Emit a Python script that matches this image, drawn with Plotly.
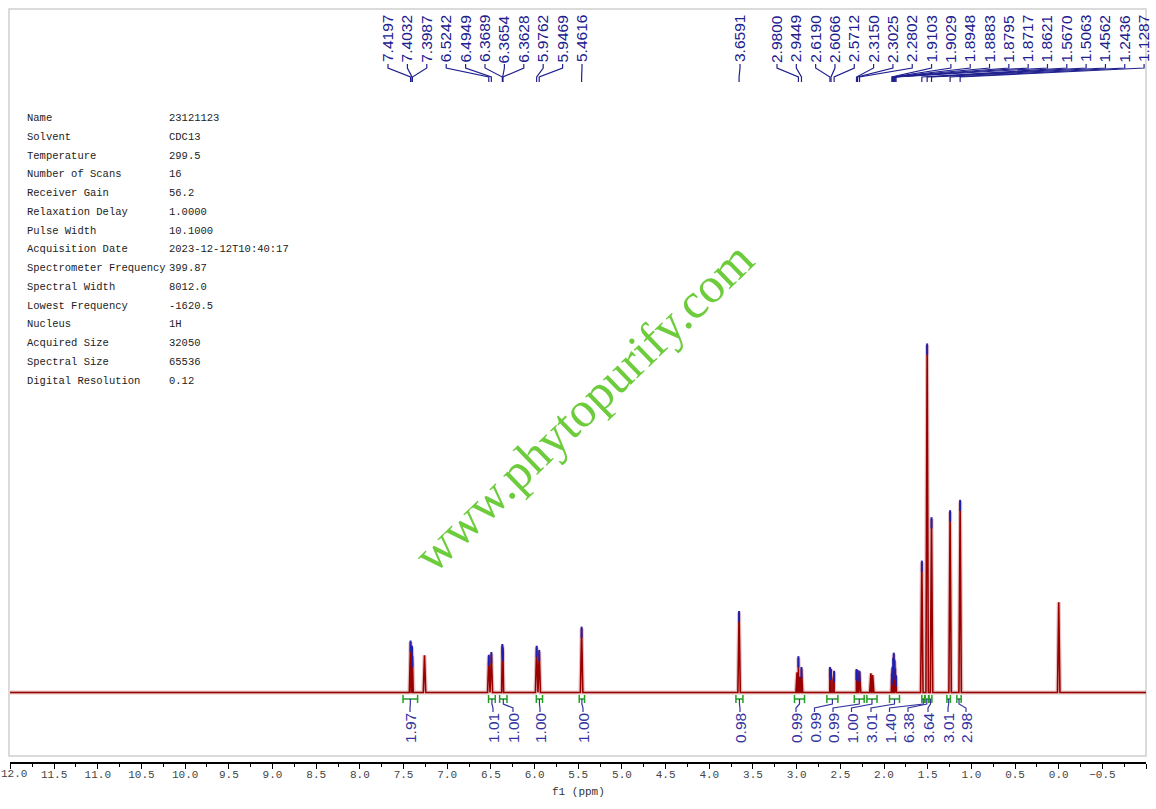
import plotly.graph_objects as go

# ---------------- data ----------------
peak_ppm = [7.4197, 7.4032, 7.3987, 7.2600, 6.5242, 6.4949, 6.3689, 6.3654, 6.3628,
            5.9762, 5.9469, 5.4616, 3.6591, 2.9950, 2.9800, 2.9620, 2.9449,
            2.6190, 2.6066, 2.5850, 2.5712, 2.3150, 2.3025, 2.2802, 2.1500, 2.1300,
            1.9103, 1.9029, 1.8948, 1.8883, 1.8795, 1.8717, 1.8621,
            1.5670, 1.5063, 1.4562, 1.2436, 1.1287, 0.0000]
peak_height = [0.145, 0.130, 0.100, 0.107, 0.104, 0.112, 0.135, 0.125, 0.118,
               0.130, 0.118, 0.185, 0.230, 0.058, 0.100, 0.045, 0.069,
               0.069, 0.063, 0.035, 0.058, 0.063, 0.060, 0.058, 0.055, 0.050,
               0.050, 0.070, 0.095, 0.110, 0.090, 0.065, 0.045,
               0.375, 1.000, 0.500, 0.520, 0.550, 0.260]

picked_ppm = [7.4197, 7.4032, 7.3987, 6.5242, 6.4949, 6.3689, 6.3654, 6.3628, 5.9762,
              5.9469, 5.4616, 3.6591, 2.9800, 2.9449, 2.6190, 2.6066, 2.5712, 2.3150,
              2.3025, 2.2802, 1.9103, 1.9029, 1.8948, 1.8883, 1.8795, 1.8717, 1.8621,
              1.5670, 1.5063, 1.4562, 1.2436, 1.1287]

integral_from = [7.506, 6.527, 6.400, 5.980, 5.489, 3.695, 3.025, 2.654, 2.340, 2.196,
                 1.937, 1.567, 1.530, 1.485, 1.280, 1.166]
integral_to = [7.339, 6.450, 6.316, 5.909, 5.428, 3.615, 2.910, 2.528, 2.227, 2.080,
               1.823, 1.535, 1.490, 1.452, 1.240, 1.117]
integral_value = ["1.97", "1.01", "1.00", "1.00", "1.00", "0.98", "0.99", "0.99", "0.99",
                  "1.00", "3.01", "1.40", "6.38", "3.64", "3.01", "2.98"]

param_names = ["Name", "Solvent", "Temperature", "Number of Scans", "Receiver Gain",
               "Relaxation Delay", "Pulse Width", "Acquisition Date",
               "Spectrometer Frequency", "Spectral Width", "Lowest Frequency", "Nucleus",
               "Acquired Size", "Spectral Size", "Digital Resolution"]
param_values = ["23121123", "CDC13", "299.5", "16", "56.2", "1.0000", "10.1000",
                "2023-12-12T10:40:17", "399.87", "8012.0", "-1620.5", "1H", "32050",
                "65536", "0.12"]

watermark = "www.phytopurify.com"
x_title = "f1 (ppm)"
edge_tick_label = "12.0"

# ---------------- layout constants ----------------
W, H = 1156, 809
ML, MR, MT, MB = 10, 10, 9, 47
PW = W - ML - MR
PH = H - MT - MB
X_LEFT, X_RIGHT = 12.005, -0.999
Y_MIN, Y_MAX = -0.2, 1.967
PX_PER_UNIT = PH / (Y_MAX - Y_MIN)

BLUE = "#20208f"
INT_BLUE = "#3434a0"
GREEN = "#22a022"
RED = "#990000"
TICK_FONT = dict(family="Liberation Mono", size=11, color="#444444")


def xpaper(X):
    return (X - ML) / PW


def ypaper(Y):
    return (H - MB - Y) / PH


def px_to_ppm(X):
    return X_LEFT - (X - ML) / PW * (X_LEFT - X_RIGHT)


# label layout (pixel positions of peak labels, grouped)
peak_label_groups = [(388, 19.4, 11), (740, 0, 1), (777, 19.32, 20)]
peak_label_px = []
for start, step, n in peak_label_groups:
    peak_label_px += [start + i * step for i in range(n)]

integral_label_px = [410, 493, 513, 540, 583, 740, 796, 814.5, 833, 851.5,
                     871, 889.5, 908, 928, 948, 966]

# ---------------- spectrum polyline from peak list ----------------
HW = 0.014
pts = [(X_LEFT, 0.0), (X_RIGHT, 0.0)]
for p, h in zip(peak_ppm, peak_height):
    pts += [(p + HW, 0.0), (p, h), (p - HW, 0.0)]
pts.sort(key=lambda t: -t[0])
sx = [t[0] for t in pts]
sy = [t[1] for t in pts]

fig = go.Figure()
fig.add_trace(go.Scatter(x=sx, y=sy, mode="lines",
                         line=dict(color="rgba(200,120,120,0.45)", width=4),
                         hoverinfo="skip", showlegend=False))
fig.add_trace(go.Scatter(x=sx, y=sy, mode="lines",
                         line=dict(color=RED, width=1.6),
                         hoverinfo="skip", showlegend=False))

# blue peak-pick tips
hmap = dict(zip(peak_ppm, peak_height))
tip_y = [hmap[p] - 4 / PX_PER_UNIT for p in picked_ppm]
fig.add_trace(go.Scatter(x=picked_ppm, y=tip_y, mode="markers",
                         marker=dict(symbol="line-ns-open", size=8, color="#2020b0",
                                     line=dict(color="#2020b0", width=2)),
                         hoverinfo="skip", showlegend=False))

shapes = []
annotations = []

# frame
shapes.append(dict(type="rect", xref="paper", yref="paper",
                   x0=xpaper(9), x1=xpaper(1146), y0=ypaper(756), y1=ypaper(9),
                   line=dict(color="#cfcfcf", width=1.5), layer="below"))

# peak labels and lead lines
for p, X in zip(picked_ppm, peak_label_px):
    annotations.append(dict(x=xpaper(X), y=ypaper(39), xref="paper", yref="paper",
                            text=f"{p:.4f}", showarrow=False, textangle=-90,
                            xanchor="center", yanchor="middle",
                            font=dict(family="Liberation Sans", size=15.5, color=BLUE)))
    xl = px_to_ppm(X)
    path = (f"M {xl},{ypaper(64)} L {xl},{ypaper(68)} "
            f"L {p},{ypaper(77)} L {p},{ypaper(82)}")
    shapes.append(dict(type="path", xref="x", yref="paper", path=path,
                       line=dict(color=BLUE, width=1.2)))

# integrals
for a, b, v, X in zip(integral_from, integral_to, integral_value, integral_label_px):
    shapes.append(dict(type="line", xref="x", yref="paper", x0=a, x1=b,
                       y0=ypaper(699), y1=ypaper(699), line=dict(color=GREEN, width=1.5)))
    for e in (a, b):
        shapes.append(dict(type="line", xref="x", yref="paper", x0=e, x1=e,
                           y0=ypaper(695), y1=ypaper(703), line=dict(color=GREEN, width=1.5)))
    c = (a + b) / 2
    xl = px_to_ppm(X)
    path = (f"M {c},{ypaper(699)} L {c},{ypaper(704)} "
            f"L {xl},{ypaper(708)} L {xl},{ypaper(712)}")
    shapes.append(dict(type="path", xref="x", yref="paper", path=path,
                       line=dict(color=INT_BLUE, width=1.2)))
    annotations.append(dict(x=xpaper(X), y=ypaper(728), xref="paper", yref="paper",
                            text=v, showarrow=False, textangle=-90,
                            xanchor="center", yanchor="middle",
                            font=dict(family="Liberation Sans", size=15.5, color=INT_BLUE)))

# parameter table
for i, (n, v) in enumerate(zip(param_names, param_values)):
    Y = 118 + i * 18.77
    annotations.append(dict(x=xpaper(25), y=ypaper(Y), xref="paper", yref="paper",
                            text=n, showarrow=False, xanchor="left", yanchor="middle",
                            font=dict(family="Liberation Mono", size=10.5, color="#222222")))
    annotations.append(dict(x=xpaper(167), y=ypaper(Y), xref="paper", yref="paper",
                            text=v, showarrow=False, xanchor="left", yanchor="middle",
                            font=dict(family="Liberation Mono", size=10.5, color="#222222")))

# watermark
annotations.append(dict(x=xpaper(583), y=ypaper(407), xref="paper", yref="paper",
                        text=watermark, showarrow=False, textangle=-44,
                        xanchor="center", yanchor="middle",
                        font=dict(family="Liberation Serif", size=50, color="#6ccc3c")))

# axis title
annotations.append(dict(x=0.5, y=ypaper(792), xref="paper", yref="paper",
                        text=x_title, showarrow=False, xanchor="center", yanchor="middle",
                        font=dict(family="Liberation Mono", size=11, color="#333333")))

# tick label at the left edge, kept inside the page
annotations.append(dict(x=xpaper(0), y=ypaper(774), xref="paper", yref="paper",
                        text=edge_tick_label, showarrow=False, xanchor="left",
                        yanchor="middle", borderpad=0, font=TICK_FONT))

fig.update_layout(
    width=W, height=H, margin=dict(l=ML, r=MR, t=MT, b=MB),
    paper_bgcolor="white", plot_bgcolor="white",
    shapes=shapes, annotations=annotations, showlegend=False,
    xaxis=dict(range=[X_LEFT, X_RIGHT], dtick=0.5, tick0=0, tickformat=".1f",
               showgrid=False, zeroline=False, showline=True, linecolor="black",
               linewidth=1.5, ticks="outside", ticklen=5, tickwidth=1.3,
               tickcolor="black", ticklabelstandoff=-4,
               minor=dict(dtick=0.25, ticks="outside", ticklen=3, tickcolor="black",
                          tickwidth=1.1, showgrid=False),
               tickfont=TICK_FONT),
    yaxis=dict(range=[Y_MIN, Y_MAX], visible=False, fixedrange=True),
)

fig.write_html("out.html", config={"displayModeBar": False},
               post_script="document.body.style.margin='0';")
